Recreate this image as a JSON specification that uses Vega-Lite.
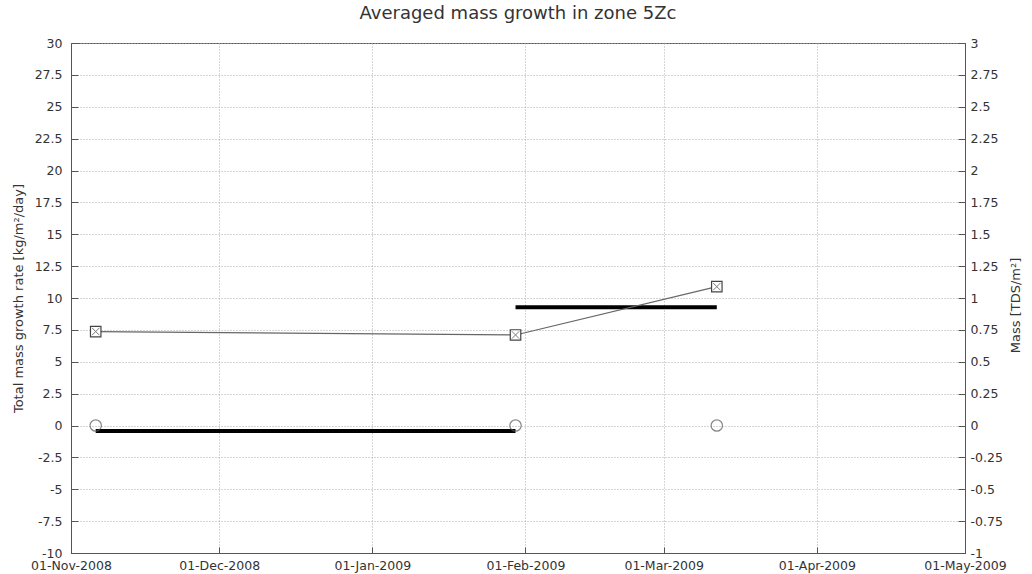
{
  "$schema": "https://vega.github.io/schema/vega-lite/v6.json",
  "width": 894,
  "height": 510,
  "autosize": {"type": "none"},
  "padding": {"left": 71, "top": 43, "right": 67, "bottom": 21},
  "background": "white",
  "config": {
    "font": "DejaVu Sans",
    "view": {"stroke": "#555", "strokeWidth": 1},
    "axis": {
      "labelFont": "DejaVu Sans",
      "labelFontSize": 12.5,
      "labelColor": "#333",
      "titleFont": "DejaVu Sans",
      "titleFontSize": 13,
      "titleFontWeight": "normal",
      "titleColor": "#333",
      "domainColor": "#555",
      "tickColor": "#555",
      "gridColor": "#aaa",
      "gridDash": [1, 2],
      "gridWidth": 1,
      "labelOverlap": false,
      "labelFlush": false
    }
  },
  "title": {
    "text": "Averaged mass growth in zone 5Zc",
    "fontSize": 18,
    "fontWeight": "normal",
    "color": "#333",
    "font": "DejaVu Sans",
    "anchor": "middle",
    "offset": 14
  },
  "datasets": {
    "mass": [
      {"date": "2008-11-06T00:00:00", "mass": 0.737},
      {"date": "2009-01-30T00:00:00", "mass": 0.71},
      {"date": "2009-03-11T18:00:00", "mass": 1.089}
    ],
    "circles": [
      {"date": "2008-11-06T00:00:00", "value": 0},
      {"date": "2009-01-30T00:00:00", "value": 0},
      {"date": "2009-03-11T18:00:00", "value": 0}
    ],
    "rates": [
      {"start": "2008-11-06T00:00:00", "end": "2009-01-30T00:00:00", "rate": -0.43},
      {"start": "2009-01-30T00:00:00", "end": "2009-03-11T18:00:00", "rate": 9.27}
    ]
  },
  "layer": [
    {
      "layer": [
        {
          "data": {"name": "rates"},
          "mark": {"type": "rule", "color": "black", "strokeWidth": 4},
          "encoding": {
            "x": {
              "field": "start",
              "type": "temporal",
              "scale": {"domain": [{"year": 2008, "month": 11, "date": 1}, {"year": 2009, "month": 5, "date": 1}], "nice": false},
              "axis": {
                "title": null,
                "format": "%d-%b-%Y",
                "values": [
                  {"year": 2008, "month": 11, "date": 1},
                  {"year": 2008, "month": 12, "date": 1},
                  {"year": 2009, "month": 1, "date": 1},
                  {"year": 2009, "month": 2, "date": 1},
                  {"year": 2009, "month": 3, "date": 1},
                  {"year": 2009, "month": 4, "date": 1},
                  {"year": 2009, "month": 5, "date": 1}
                ],
                "tickCount": 20,
                "grid": true,
                "tickSize": -6,
                "labelPadding": 12,
                "labelFlush": false,
                "labelOverlap": false
              }
            },
            "x2": {"field": "end"},
            "y": {
              "field": "rate",
              "type": "quantitative",
              "scale": {"domain": [-10, 30], "nice": false, "zero": false},
              "axis": {
                "title": "Total mass growth rate [kg/m²/day]",
                "orient": "left",
                "values": [-10, -7.5, -5, -2.5, 0, 2.5, 5, 7.5, 10, 12.5, 15, 17.5, 20, 22.5, 25, 27.5, 30],
                "tickCount": 40,
                "labelExpr": "toString(datum.value)",
                "labelOverlap": false,
                "grid": true,
                "tickSize": -7,
                "labelPadding": 16,
                "titleAngle": -90,
                "titleX": -53,
                "titleY": 255,
                "titleAlign": "center",
                "titleBaseline": "middle"
              }
            }
          }
        },
        {
          "mark": {"type": "rule", "color": "black", "strokeWidth": 2},
          "encoding": {"y": {"datum": 0, "type": "quantitative"}}
        },
        {
          "data": {"name": "circles"},
          "mark": {"type": "point", "shape": "circle", "size": 130, "filled": false, "stroke": "#555", "strokeWidth": 1.2},
          "encoding": {
            "x": {"field": "date", "type": "temporal"},
            "y": {"field": "value", "type": "quantitative"}
          }
        }
      ]
    },
    {
      "data": {"name": "mass"},
      "layer": [
        {
          "mark": {"type": "line", "color": "#666", "strokeWidth": 1.2},
          "encoding": {
            "x": {"field": "date", "type": "temporal"},
            "y": {
              "field": "mass",
              "type": "quantitative",
              "scale": {"domain": [-1, 3], "nice": false, "zero": false},
              "axis": {
                "title": "Mass [TDS/m²]",
                "orient": "right",
                "values": [-1, -0.75, -0.5, -0.25, 0, 0.25, 0.5, 0.75, 1, 1.25, 1.5, 1.75, 2, 2.25, 2.5, 2.75, 3],
                "tickCount": 40,
                "labelExpr": "toString(datum.value)",
                "labelOverlap": false,
                "grid": false,
                "tickSize": -7,
                "labelPadding": 12,
                "titleAngle": -90,
                "titleX": 50,
                "titleY": 262,
                "titleAlign": "center",
                "titleBaseline": "middle"
              }
            }
          }
        },
        {
          "mark": {"type": "point", "shape": "square", "size": 110, "filled": false, "stroke": "#444", "strokeWidth": 1.2, "fill": "white", "fillOpacity": 1},
          "encoding": {
            "x": {"field": "date", "type": "temporal"},
            "y": {"field": "mass", "type": "quantitative"}
          }
        },
        {
          "mark": {"type": "point", "shape": "M-0.7,-0.7L0.7,0.7M0.7,-0.7L-0.7,0.7", "size": 110, "filled": false, "stroke": "#444", "strokeWidth": 1},
          "encoding": {
            "x": {"field": "date", "type": "temporal"},
            "y": {"field": "mass", "type": "quantitative"}
          }
        }
      ]
    }
  ],
  "resolve": {"scale": {"y": "independent"}}
}
